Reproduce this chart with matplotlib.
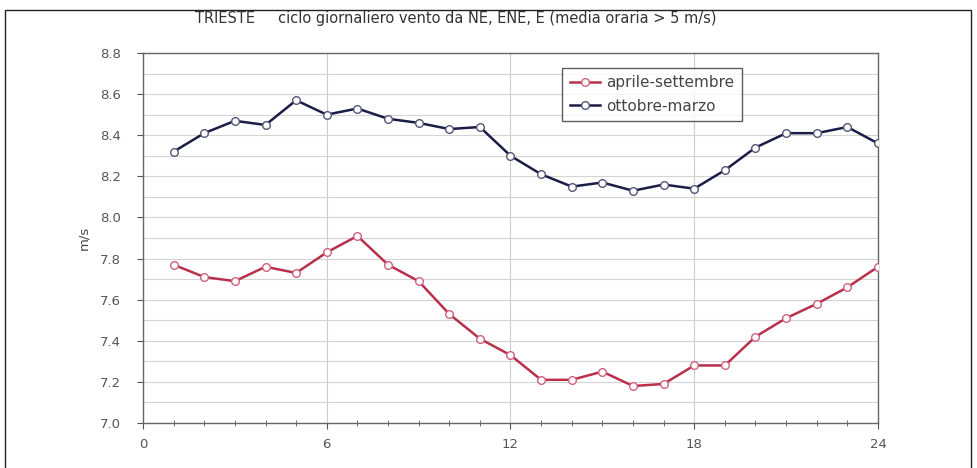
import matplotlib
matplotlib.use("Agg")
import matplotlib.pyplot as plt
from matplotlib.patches import Rectangle
from matplotlib.ticker import MultipleLocator

plt.rcParams['font.family'] = ['DejaVu Sans']

hours = list(range(1, 25))
apr_set = [7.77, 7.71, 7.69, 7.76, 7.73, 7.83, 7.91, 7.77, 7.69, 7.53, 7.41, 7.33,
           7.21, 7.21, 7.25, 7.18, 7.19, 7.28, 7.28, 7.42, 7.51, 7.58, 7.66, 7.76]
ott_mar = [8.32, 8.41, 8.47, 8.45, 8.57, 8.50, 8.53, 8.48, 8.46, 8.43, 8.44, 8.30,
           8.21, 8.15, 8.17, 8.13, 8.16, 8.14, 8.23, 8.34, 8.41, 8.41, 8.44, 8.36]
labels = ['aprile-settembre', 'ottobre-marzo']
title = 'TRIESTE     ciclo giornaliero vento da NE, ENE, E (media oraria > 5 m/s)'
ylabel = 'm/s'
xticks = [0, 6, 12, 18, 24]
yticks = [7.0, 7.2, 7.4, 7.6, 7.8, 8.0, 8.2, 8.4, 8.6, 8.8]

fig = plt.figure(figsize=(9.77, 4.68), dpi=100)
fig.patches.append(Rectangle((5/977, -0.01), 966/977, 1 - 10/468 + 0.01,
                             transform=fig.transFigure, fill=False,
                             edgecolor='#222222', linewidth=1.0))
ax = fig.add_axes([143/977, 1 - 423/468, 735/977, 370/468])

ax.plot(hours, apr_set, color='#b8304a', lw=1.8, marker='o', ms=5.5,
        mfc='white', mec='#d06080', mew=1.0, label=labels[0], zorder=3)
ax.plot(hours, ott_mar, color='#1c1c48', lw=1.8, marker='o', ms=5.5,
        mfc='white', mec='#555577', mew=1.0, label=labels[1], zorder=3)

ax.set_xlim(0, 24)
ax.set_ylim(7.0, 8.8)
ax.set_xticks(xticks)
ax.set_yticks(yticks)
ax.set_yticklabels([f'{v:.1f}' for v in yticks])
ax.xaxis.set_minor_locator(MultipleLocator(1))
ax.yaxis.set_minor_locator(MultipleLocator(0.1))
ax.grid(True, which='major', axis='x', color='#cccccc', lw=0.8)
ax.grid(True, which='both', axis='y', color='#d4d4d4', lw=0.8)
ax.set_axisbelow(True)
ax.tick_params(axis='both', which='major', labelsize=9.5, colors='#555555',
               length=4, direction='out')
ax.tick_params(axis='x', which='minor', length=4, direction='inout', color='#555555')
ax.tick_params(axis='y', which='minor', length=0)
ax.tick_params(axis='x', pad=7)
ax.tick_params(axis='y', pad=12)
for s in ax.spines.values():
    s.set_color('#666666')
    s.set_linewidth(1.0)

ax.set_ylabel(ylabel, fontsize=9.5, color='#444444', labelpad=7)
fig.text(456/977, 1 - 18/468, title, ha='center', va='center', fontsize=10.5,
         color='#333333')

leg = ax.legend(loc='upper left', bbox_to_anchor=(0.570, 0.960), fontsize=11,
                frameon=True, fancybox=False, borderaxespad=0,
                handlelength=2.0, handletextpad=0.4, labelspacing=0.55,
                borderpad=0.5)
leg.get_frame().set_edgecolor('#333333')
leg.get_frame().set_linewidth(1.0)
for t in leg.get_texts():
    t.set_color('#444444')

fig.savefig('out.png', dpi=100)
